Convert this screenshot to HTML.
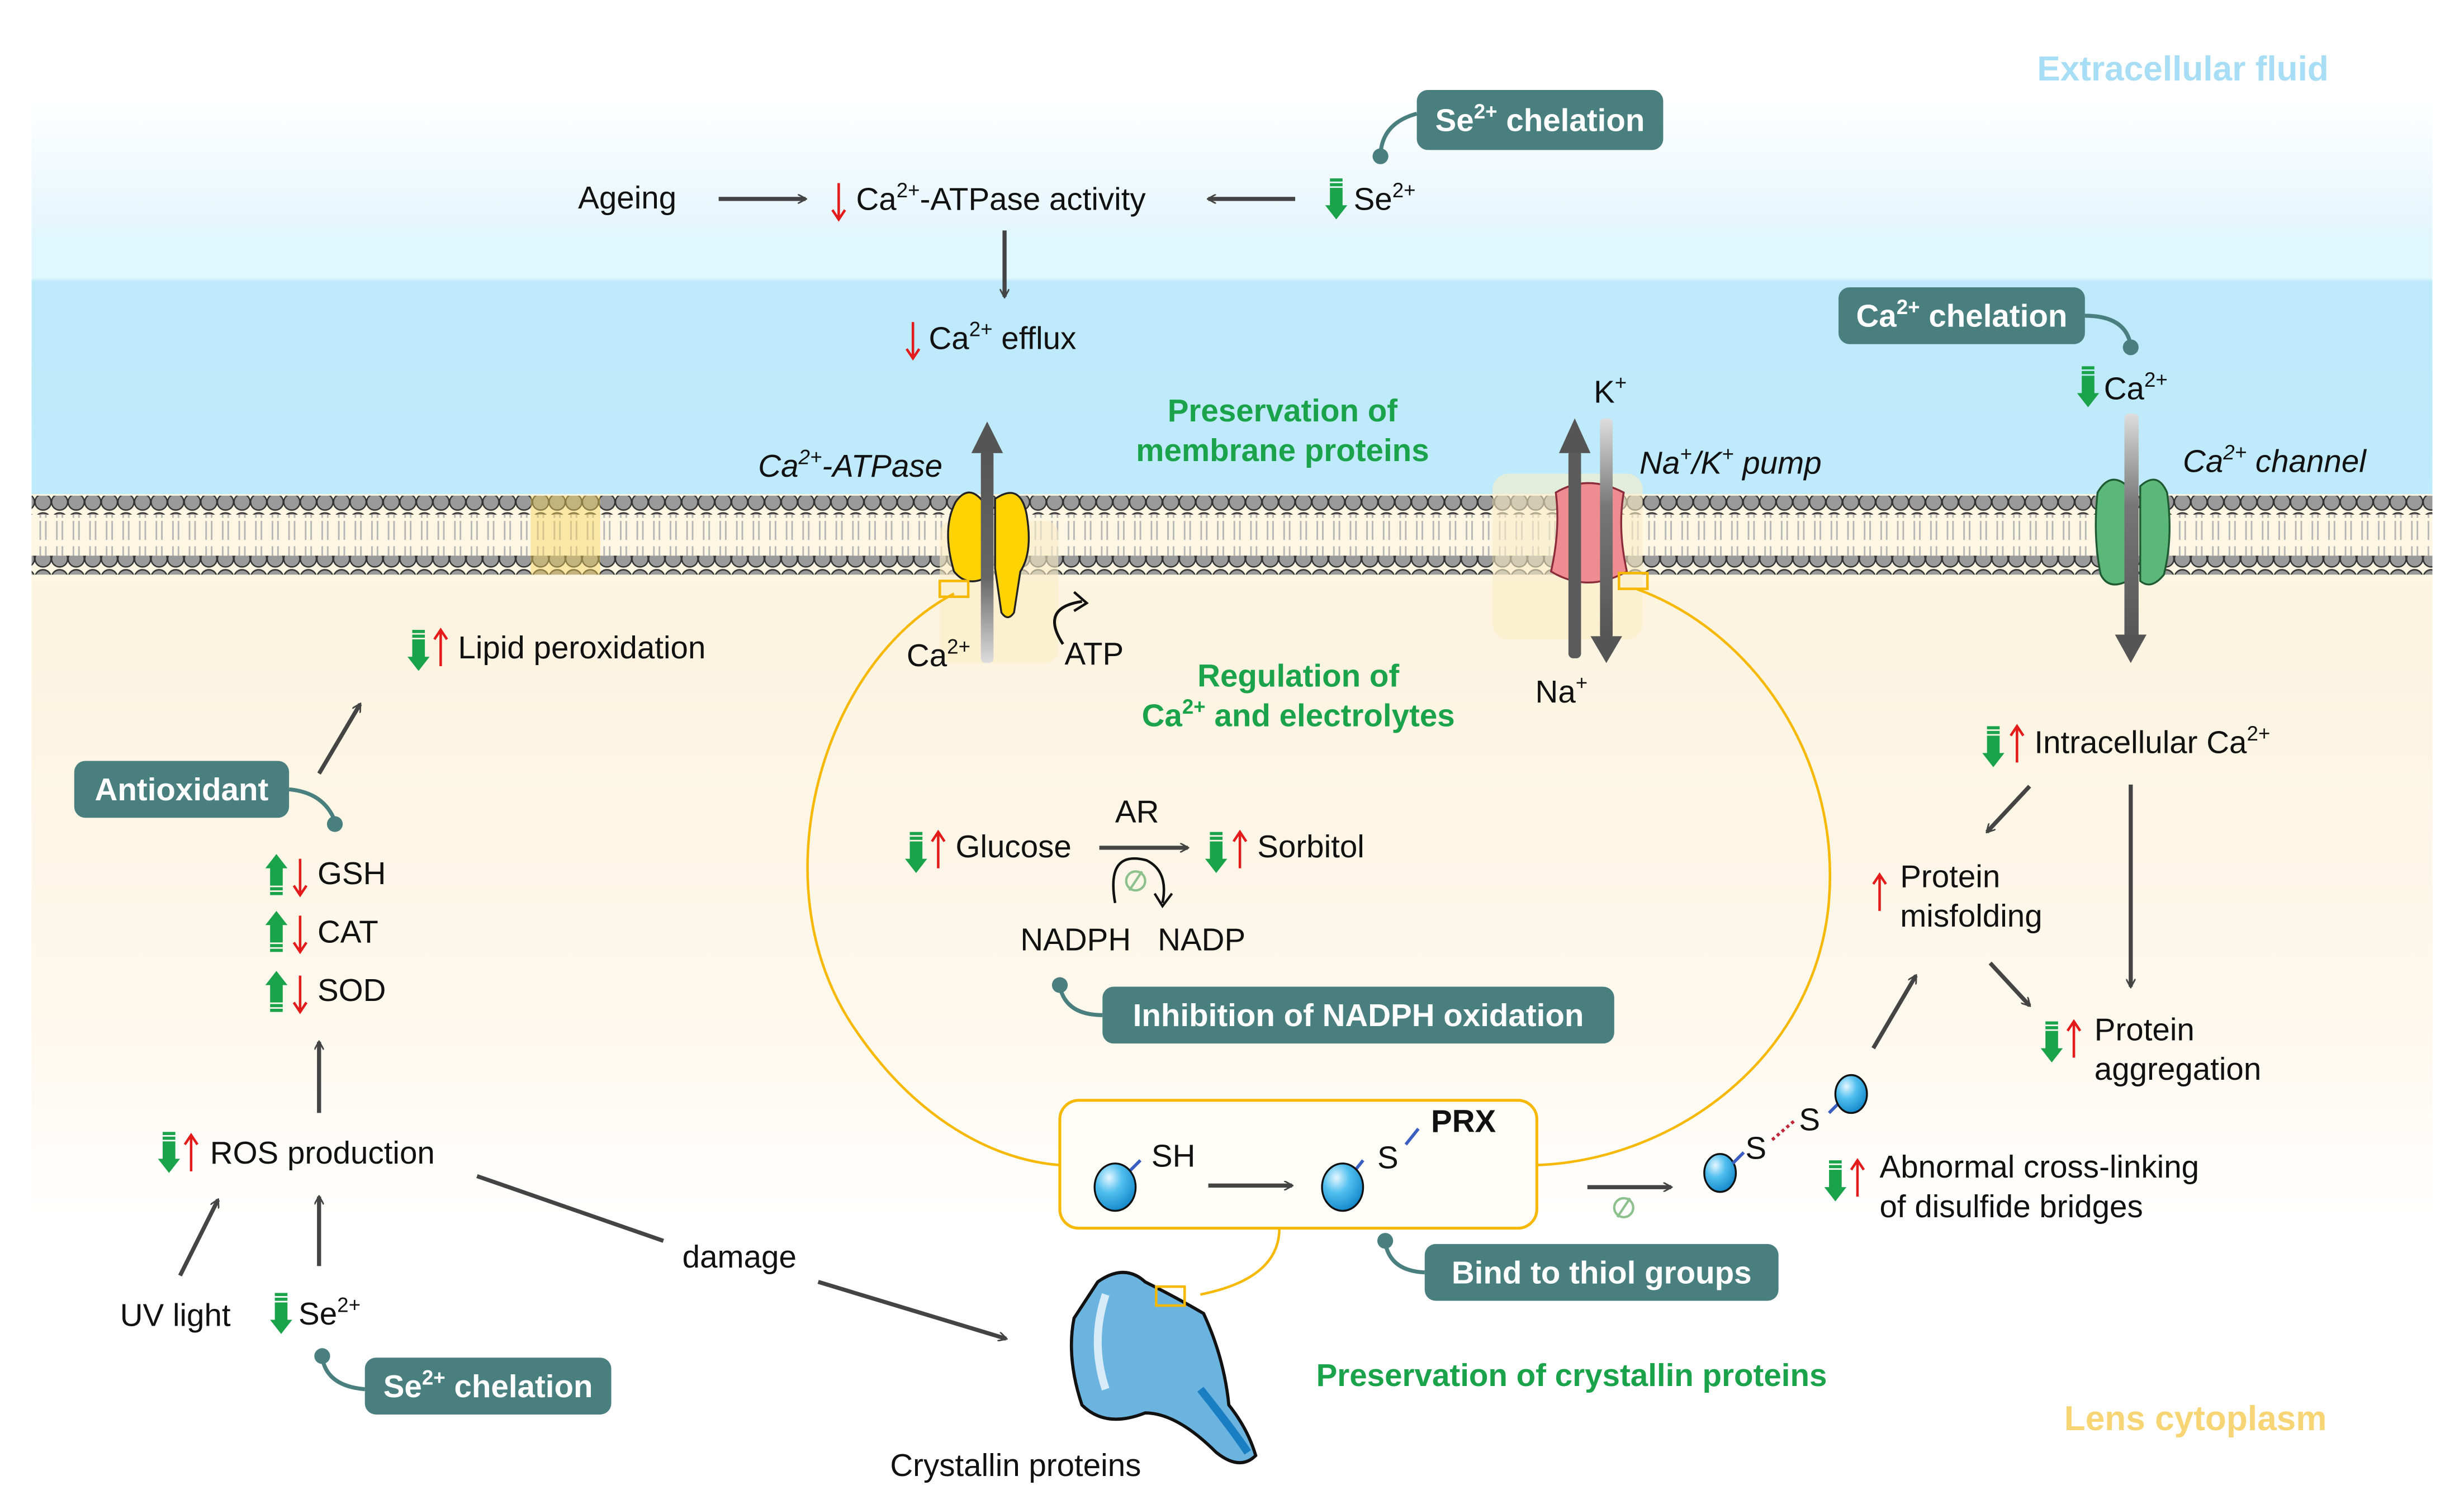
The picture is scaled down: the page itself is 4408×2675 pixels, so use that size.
<!DOCTYPE html>
<html><head><meta charset="utf-8"><style>
html,body{margin:0;padding:0;background:#fff}
svg{display:block}
text{font-family:"Liberation Sans",Arial,sans-serif}
.t{font-size:20px;fill:#111}
.g{font-size:20px;fill:#1aa34a;font-weight:bold}
.w{font-size:20px;fill:#fff;font-weight:bold}
.i{font-size:20px;fill:#111;font-style:italic}
.ar{stroke:#444;stroke-width:2.6;fill:none}
</style></head><body>
<svg width="4408" height="2675" viewBox="0 0 1560 947" preserveAspectRatio="none" xmlns="http://www.w3.org/2000/svg">
<defs>
<linearGradient id="ext" x1="0" y1="0" x2="0" y2="1">
<stop offset="0" stop-color="#ffffff"/><stop offset="0.3" stop-color="#e6f6fc"/><stop offset="0.34" stop-color="#dff8fd"/><stop offset="0.44" stop-color="#dff8fd"/><stop offset="0.45" stop-color="#bde9fa"/><stop offset="1" stop-color="#bfeafb"/>
</linearGradient>
<linearGradient id="cyt" x1="0" y1="0" x2="0" y2="1">
<stop offset="0" stop-color="#fcf3dd"/><stop offset="0.7" stop-color="#fdf8ec"/><stop offset="1" stop-color="#ffffff"/>
</linearGradient>
<linearGradient id="gr1" x1="0" y1="0" x2="0" y2="1"><stop offset="0" stop-color="#555"/><stop offset="0.6" stop-color="#666"/><stop offset="1" stop-color="#ddd"/></linearGradient>
<linearGradient id="gr2" x1="0" y1="0" x2="0" y2="1"><stop offset="0" stop-color="#ddd"/><stop offset="0.4" stop-color="#777"/><stop offset="1" stop-color="#555"/></linearGradient>
<pattern id="heads" x="22" y="0" width="10.5" height="12" patternUnits="userSpaceOnUse">
<circle cx="5.25" cy="6" r="5.1" fill="#9a9a9a" stroke="#333" stroke-width="0.9"/></pattern>
<pattern id="tails" x="22" y="0" width="10.5" height="30" patternUnits="userSpaceOnUse">
<path d="M3.5 0 V12 M7 0 V12 M3.5 16 V28 M7 16 V28" stroke="#b5b5b5" stroke-width="1"/></pattern>
<radialGradient id="ball" cx="0.35" cy="0.3" r="0.8"><stop offset="0" stop-color="#e6f7ff"/><stop offset="0.4" stop-color="#52c0ef"/><stop offset="1" stop-color="#0a7fc4"/></radialGradient>
<g id="gdn"><rect x="-4" y="-13" width="8" height="2" fill="#1aa34a"/><rect x="-4" y="-10" width="8" height="2" fill="#1aa34a"/><rect x="-4" y="-7" width="8" height="12" fill="#1aa34a"/><path d="M-7 4 L7 4 L0 13 Z" fill="#1aa34a"/></g>
<g id="gup"><rect x="-4" y="11" width="8" height="2" fill="#1aa34a"/><rect x="-4" y="8" width="8" height="2" fill="#1aa34a"/><rect x="-4" y="-5" width="8" height="12" fill="#1aa34a"/><path d="M-7 -4 L7 -4 L0 -13 Z" fill="#1aa34a"/></g>
<g id="rup"><path d="M0 12 V-10 M-4 -5 L0 -11 L4 -5" stroke="#e31b1b" stroke-width="1.6" fill="none"/></g>
<g id="rdn"><path d="M0 -12 V10 M-4 5 L0 11 L4 5" stroke="#e31b1b" stroke-width="1.6" fill="none"/></g>
<marker id="ah" viewBox="0 0 12 12" refX="10" refY="6" markerWidth="6" markerHeight="6" orient="auto" markerUnits="userSpaceOnUse"><path d="M0 0 L11 6 L0 12" fill="none" stroke="#444" stroke-width="2"/></marker>
</defs>
<style>.ar{marker-end:url(#ah)}</style>

<rect x="20" y="65" width="1520" height="252" fill="url(#ext)"/>
<rect x="20" y="340" width="1520" height="430" fill="url(#cyt)"/>
<rect x="20" y="313" width="1520" height="56" fill="#fdf6e3"/>
<rect x="20" y="314" width="1520" height="12" fill="url(#heads)"/>
<rect x="20" y="326" width="1520" height="30" fill="url(#tails)"/>
<rect x="20" y="352" width="1520" height="12" fill="url(#heads)"/>
<rect x="336" y="314" width="44" height="50" fill="#f7d55a" opacity="0.45"/>
<rect x="945" y="300" width="95" height="105" rx="10" fill="#faeec6" opacity="0.6"/>
<rect x="595" y="330" width="75" height="90" rx="8" fill="#faeec6" opacity="0.6"/>

<text x="1382" y="51" style="font-size:22px;font-weight:bold;fill:#a8def5" text-anchor="middle">Extracellular fluid</text>
<text x="1390" y="906" style="font-size:22px;font-weight:bold;fill:#f7d574" text-anchor="middle">Lens cytoplasm</text>

<text x="366" y="132" class="t">Ageing</text>
<line x1="455" y1="126" x2="510" y2="126" class="ar"/>
<use href="#rdn" x="531" y="128"/>
<text x="542" y="133" class="t">Ca<tspan dy="-8" font-size="13">2+</tspan><tspan dy="8">-ATPase activity</tspan></text>
<line x1="820" y1="126" x2="765" y2="126" class="ar"/>
<use href="#gdn" x="846" y="126"/>
<text x="857" y="133" class="t">Se<tspan dy="-8" font-size="13">2+</tspan></text>
<rect x="897" y="57" width="156" height="38" rx="7" fill="#4a7f7f"/>
<text x="975" y="83" class="w" text-anchor="middle">Se<tspan dy="-8" font-size="13">2+</tspan><tspan dy="8"> chelation</tspan></text>
<path d="M897 72 Q875 78 874 98" stroke="#4a7f7f" stroke-width="2.5" fill="none"/><circle cx="874" cy="99" r="5" fill="#4a7f7f"/>
<line x1="636" y1="146" x2="636" y2="188" class="ar"/>
<use href="#rdn" x="578" y="216"/>
<text x="588" y="221" class="t">Ca<tspan dy="-8" font-size="13">2+</tspan><tspan dy="8"> efflux</tspan></text>

<text x="812" y="267" class="g" text-anchor="middle">Preservation of</text>
<text x="812" y="292" class="g" text-anchor="middle">membrane proteins</text>
<text x="822" y="435" class="g" text-anchor="middle">Regulation of</text>
<text x="822" y="460" class="g" text-anchor="middle">Ca<tspan dy="-8" font-size="13">2+</tspan><tspan dy="8"> and electrolytes</tspan></text>

<text x="480" y="302" class="i">Ca<tspan dy="-8" font-size="13">2+</tspan><tspan dy="8">-ATPase</tspan></text>
<path d="M605 318 Q596 335 604 362 Q612 372 624 366 L624 320 Q614 305 605 318 Z" fill="#ffd200" stroke="#222" stroke-width="1.2"/>
<path d="M630 316 Q646 305 650 326 Q654 350 646 362 L642 388 Q638 394 634 388 L630 360 Z" fill="#ffd200" stroke="#222" stroke-width="1.2"/>
<rect x="621" y="285" width="8" height="135" rx="3" fill="url(#gr1)"/>
<path d="M615 287 L625 267 L635 287 Z" fill="#555"/>
<rect x="595" y="368" width="18" height="10" fill="none" stroke="#f6b800" stroke-width="1.6"/>
<text x="574" y="422" class="t">Ca<tspan dy="-8" font-size="13">2+</tspan></text>
<path d="M673 408 Q658 385 685 381" stroke="#111" stroke-width="1.8" fill="none"/><path d="M680 375 L688 382 L680 387" stroke="#111" stroke-width="1.6" fill="none"/>
<text x="674" y="421" class="t">ATP</text>

<path d="M985 312 Q1005 300 1028 312 Q1024 335 1030 362 Q1005 376 982 362 Q988 335 985 312 Z" fill="#ef8c92" stroke="#8a2c3a" stroke-width="1.2"/>
<rect x="993" y="285" width="8" height="132" rx="3" fill="#5b5b5b"/>
<path d="M987 287 L997 265 L1007 287 Z" fill="#555"/>
<rect x="1013" y="265" width="8" height="140" rx="3" fill="url(#gr2)"/>
<path d="M1007 403 L1017 420 L1027 403 Z" fill="#555"/>
<rect x="1025" y="363" width="18" height="10" fill="none" stroke="#f6b800" stroke-width="1.6"/>
<text x="1009" y="255" class="t">K<tspan dy="-8" font-size="13">+</tspan></text>
<text x="972" y="445" class="t">Na<tspan dy="-8" font-size="13">+</tspan></text>
<text x="1038" y="300" class="i">Na<tspan dy="-8" font-size="13">+</tspan><tspan dy="8">/K</tspan><tspan dy="-8" font-size="13">+</tspan><tspan dy="8"> pump</tspan></text>

<path d="M1328 312 Q1336 298 1347 308 L1347 368 Q1335 374 1330 364 Q1325 340 1328 312 Z" fill="#5cb77a" stroke="#1f5a33" stroke-width="1.2"/>
<path d="M1355 308 Q1366 298 1372 312 Q1376 340 1370 364 Q1362 374 1355 368 Z" fill="#5cb77a" stroke="#1f5a33" stroke-width="1.2"/>
<rect x="1345" y="262" width="9" height="145" rx="3" fill="url(#gr2)"/>
<path d="M1339 402 L1349 420 L1359 402 Z" fill="#555"/>
<text x="1382" y="299" class="i">Ca<tspan dy="-8" font-size="13">2+</tspan><tspan dy="8"> channel</tspan></text>
<use href="#gdn" x="1322" y="245"/>
<text x="1332" y="253" class="t">Ca<tspan dy="-8" font-size="13">2+</tspan></text>
<rect x="1164" y="182" width="156" height="36" rx="7" fill="#4a7f7f"/>
<text x="1242" y="207" class="w" text-anchor="middle">Ca<tspan dy="-8" font-size="13">2+</tspan><tspan dy="8"> chelation</tspan></text>
<path d="M1320 200 Q1346 200 1349 219" stroke="#4a7f7f" stroke-width="2.5" fill="none"/><circle cx="1349" cy="220" r="5" fill="#4a7f7f"/>

<path d="M604 376 C520 420 480 560 540 650 C580 710 630 735 671 738" stroke="#f6b800" stroke-width="1.6" fill="none"/>
<path d="M1036 373 C1110 400 1165 480 1158 570 C1150 670 1060 735 973 738" stroke="#f6b800" stroke-width="1.6" fill="none"/>

<use href="#gdn" x="580" y="540"/><use href="#rup" x="594" y="538"/>
<text x="605" y="543" class="t">Glucose</text>
<line x1="696" y1="537" x2="752" y2="537" class="ar"/>
<text x="706" y="521" class="t">AR</text>
<use href="#gdn" x="770" y="540"/><use href="#rup" x="785" y="538"/>
<text x="796" y="543" class="t">Sorbitol</text>
<path d="M706 572 Q700 538 726 545 Q740 552 736 572" stroke="#111" stroke-width="1.6" fill="none"/><path d="M731 566 L736 574 L742 566" stroke="#111" stroke-width="1.5" fill="none"/>
<circle cx="719" cy="558" r="6" fill="none" stroke="#8cc08c" stroke-width="1.5"/><line x1="715" y1="564" x2="723" y2="552" stroke="#8cc08c" stroke-width="1.5"/>
<text x="646" y="602" class="t">NADPH</text>
<text x="733" y="602" class="t">NADP</text>
<rect x="698" y="625" width="324" height="36" rx="7" fill="#4a7f7f"/>
<text x="860" y="650" class="w" text-anchor="middle">Inhibition of NADPH oxidation</text>
<path d="M698 643 Q675 643 671 625" stroke="#4a7f7f" stroke-width="2.5" fill="none"/><circle cx="671" cy="624" r="5" fill="#4a7f7f"/>

<rect x="671" y="697" width="302" height="81" rx="12" fill="#fffdf7" stroke="#f6b800" stroke-width="1.8"/>
<line x1="710" y1="747" x2="722" y2="735" stroke="#3a5fc0" stroke-width="2"/>
<ellipse cx="706" cy="752" rx="13" ry="15" fill="url(#ball)" stroke="#111" stroke-width="1.2"/>
<text x="729" y="739" class="t">SH</text>
<line x1="765" y1="751" x2="818" y2="751" class="ar"/>
<line x1="855" y1="745" x2="863" y2="735" stroke="#3a5fc0" stroke-width="2"/>
<ellipse cx="850" cy="752" rx="13" ry="15" fill="url(#ball)" stroke="#111" stroke-width="1.2"/>
<text x="872" y="740" class="t">S</text>
<line x1="890" y1="725" x2="898" y2="715" stroke="#3a5fc0" stroke-width="2"/>
<text x="906" y="717" class="t" font-weight="bold">PRX</text>
<path d="M810 778 Q810 810 760 820" stroke="#f6b800" stroke-width="1.6" fill="none"/>
<rect x="902" y="788" width="224" height="36" rx="7" fill="#4a7f7f"/>
<text x="1014" y="813" class="w" text-anchor="middle">Bind to thiol groups</text>
<path d="M902 806 Q880 805 877 787" stroke="#4a7f7f" stroke-width="2.5" fill="none"/><circle cx="877" cy="786" r="5" fill="#4a7f7f"/>

<line x1="1005" y1="752" x2="1058" y2="752" class="ar"/>
<circle cx="1028" cy="765" r="6" fill="none" stroke="#8cc08c" stroke-width="1.5"/><line x1="1024" y1="771" x2="1032" y2="759" stroke="#8cc08c" stroke-width="1.5"/>
<ellipse cx="1089" cy="743" rx="10" ry="12" fill="url(#ball)" stroke="#111" stroke-width="1.2"/>
<line x1="1097" y1="737" x2="1104" y2="730" stroke="#3a5fc0" stroke-width="2"/>
<text x="1105" y="734" class="t">S</text>
<line x1="1122" y1="722" x2="1136" y2="710" stroke="#c0283a" stroke-width="2" stroke-dasharray="2 2"/>
<text x="1139" y="716" class="t">S</text>
<line x1="1158" y1="705" x2="1165" y2="698" stroke="#3a5fc0" stroke-width="2"/>
<ellipse cx="1172" cy="693" rx="10" ry="12" fill="url(#ball)" stroke="#111" stroke-width="1.2"/>
<use href="#gdn" x="1162" y="748"/><use href="#rup" x="1176" y="746"/>
<text x="1190" y="746" class="t">Abnormal cross-linking</text>
<text x="1190" y="771" class="t">of disulfide bridges</text>
<line x1="1186" y1="664" x2="1213" y2="618" class="ar"/>

<use href="#gdn" x="1262" y="473"/><use href="#rup" x="1277" y="471"/>
<text x="1288" y="477" class="t">Intracellular Ca<tspan dy="-8" font-size="13">2+</tspan></text>
<line x1="1285" y1="498" x2="1258" y2="527" class="ar"/>
<line x1="1349" y1="497" x2="1349" y2="625" class="ar"/>
<use href="#rup" x="1190" y="565"/>
<text x="1203" y="562" class="t">Protein</text>
<text x="1203" y="587" class="t">misfolding</text>
<line x1="1260" y1="610" x2="1285" y2="637" class="ar"/>
<use href="#gdn" x="1299" y="660"/><use href="#rup" x="1313" y="658"/>
<text x="1326" y="659" class="t">Protein</text>
<text x="1326" y="684" class="t">aggregation</text>

<use href="#gdn" x="265" y="412"/><use href="#rup" x="279" y="410"/>
<text x="290" y="417" class="t">Lipid peroxidation</text>
<line x1="202" y1="490" x2="228" y2="446" class="ar"/>
<rect x="47" y="482" width="136" height="36" rx="7" fill="#4a7f7f"/>
<text x="115" y="507" class="w" text-anchor="middle">Antioxidant</text>
<path d="M183 500 Q205 502 212 520" stroke="#4a7f7f" stroke-width="2.5" fill="none"/><circle cx="212" cy="522" r="5" fill="#4a7f7f"/>
<use href="#gup" x="175" y="554"/><use href="#rdn" x="190" y="556"/>
<text x="201" y="560" class="t">GSH</text>
<use href="#gup" x="175" y="590"/><use href="#rdn" x="190" y="592"/>
<text x="201" y="597" class="t">CAT</text>
<use href="#gup" x="175" y="628"/><use href="#rdn" x="190" y="630"/>
<text x="201" y="634" class="t">SOD</text>
<line x1="202" y1="705" x2="202" y2="660" class="ar"/>
<use href="#gdn" x="107" y="730"/><use href="#rup" x="121" y="730"/>
<text x="133" y="737" class="t">ROS production</text>
<line x1="114" y1="808" x2="138" y2="760" class="ar"/>
<line x1="202" y1="802" x2="202" y2="758" class="ar"/>
<text x="76" y="840" class="t">UV light</text>
<use href="#gdn" x="178" y="832"/>
<text x="189" y="839" class="t">Se<tspan dy="-8" font-size="13">2+</tspan></text>
<rect x="231" y="860" width="156" height="36" rx="7" fill="#4a7f7f"/>
<text x="309" y="885" class="w" text-anchor="middle">Se<tspan dy="-8" font-size="13">2+</tspan><tspan dy="8"> chelation</tspan></text>
<path d="M231 880 Q207 878 204 860" stroke="#4a7f7f" stroke-width="2.5" fill="none"/><circle cx="204" cy="859" r="5" fill="#4a7f7f"/>
<line x1="302" y1="745" x2="420" y2="786" stroke="#444" stroke-width="2.6"/>
<text x="432" y="803" class="t">damage</text>
<line x1="518" y1="812" x2="637" y2="848" class="ar"/>

<path d="M695 812 Q712 800 725 812 Q745 822 762 832 Q775 860 778 890 Q790 905 795 922 Q785 932 770 920 Q745 895 725 895 Q700 905 685 890 Q675 860 680 835 Z" fill="#6bb4df" stroke="#111" stroke-width="2"/>
<path d="M700 820 Q690 850 700 880" stroke="#d7ecf8" stroke-width="5" fill="none"/>
<path d="M760 880 Q780 905 790 920" stroke="#1a7fc2" stroke-width="5" fill="none"/>
<rect x="732" y="815" width="18" height="12" fill="none" stroke="#f6b800" stroke-width="1.6"/>
<text x="643" y="935" class="t" text-anchor="middle">Crystallin proteins</text>
<text x="995" y="878" class="g" text-anchor="middle">Preservation of crystallin proteins</text>
</svg>
</body></html>
